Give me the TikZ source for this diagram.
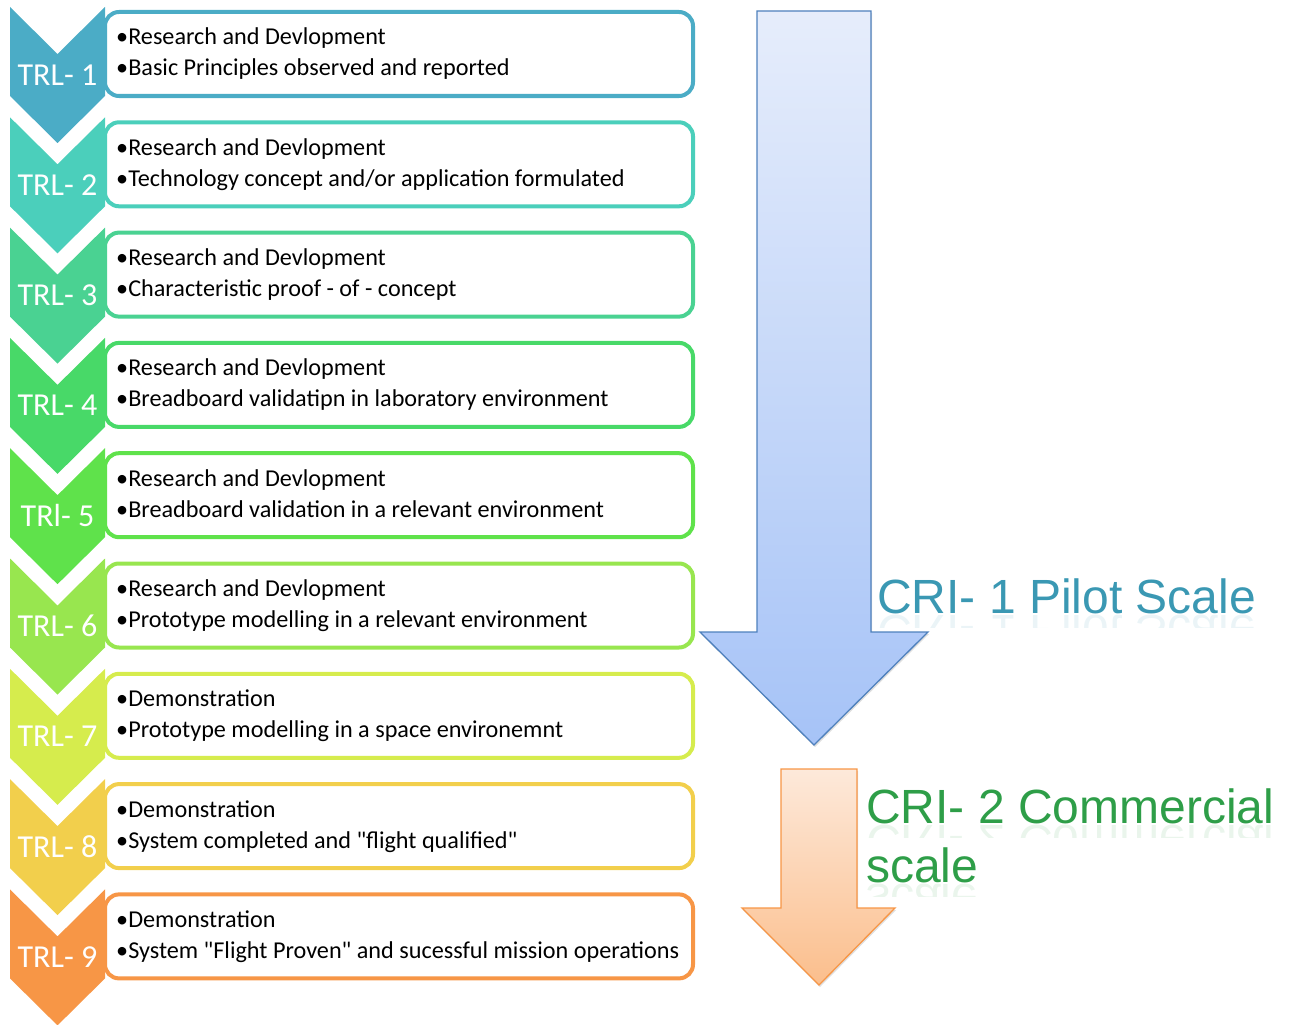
\documentclass[tikz,border=0pt]{standalone}
\usepackage{fontspec}
\setmainfont{Carlito}[Ligatures=TeXOff]
\newfontfamily\crifont{Liberation Sans}
\usetikzlibrary{shadows}

% chevron / frame colours, from blue-teal through green to orange
\definecolor{lv1}{HTML}{4BACC6}
\definecolor{lv2}{HTML}{4BCFBB}
\definecolor{lv3}{HTML}{4AD292}
\definecolor{lv4}{HTML}{48D968}
\definecolor{lv5}{HTML}{5FE24B}
\definecolor{lv6}{HTML}{98E64F}
\definecolor{lv7}{HTML}{D6EC4D}
\definecolor{lv8}{HTML}{F2CF4C}
\definecolor{lv9}{HTML}{F79646}
\definecolor{pilotblue}{HTML}{3A98B3}
\definecolor{commgreen}{HTML}{2E9E48}
\definecolor{blueedge}{HTML}{4F81BD}
\definecolor{bluetop}{HTML}{E6EDFB}
\definecolor{bluebottom}{HTML}{A6C3F7}
\definecolor{orangeedge}{HTML}{F79646}
\definecolor{orangetop}{HTML}{FDE9DA}
\definecolor{orangebottom}{HTML}{FBBE8C}

% one stage: #1 index, #2 colour, #3 label, #4 first bullet, #5 second bullet
\newcommand\trlrow[5]{%
  \pgfmathsetmacro\yo{7+110.3*(#1-1)}
  \draw[stagebox=#2] (105,\yo+5) rectangle (693,\yo+89);
  \fill[#2] (10,\yo) -- (57.5,\yo+47) -- (105,\yo) -- (105,\yo+89)
            -- (57.5,\yo+136) -- (10,\yo+89) -- cycle;
  \node[trllabel] (trl#1) at (57.5,\yo+78) {#3};
  \node[bodytext] (first#1) at (116,\yo+38) {•#4};
  \node[bodytext] (second#1) at (116,\yo+69) {•#5};
}

\begin{document}
\begin{tikzpicture}[x=1pt,y=-1pt,
  stagebox/.style={draw=#1, line width=4pt, fill=white, rounded corners=14pt},
  trllabel/.style={text=white, font=\fontsize{32}{36}\selectfont, inner sep=0pt, anchor=base},
  bodytext/.style={font=\fontsize{24.2}{28}\selectfont, inner sep=0pt, anchor=base west, text=black},
  bigarrow/.style={draw=#1, line width=1.3pt, line join=miter,
    drop shadow={opacity=0.25, shadow xshift=1pt, shadow yshift=-2pt}},
  critext/.style={font=\crifont\fontsize{48}{56}\selectfont, inner sep=0pt, anchor=base west, text=#1},
  crimirror/.style={font=\crifont\fontsize{48}{56}\selectfont, inner sep=0pt, anchor=base west,
    text=#1, yscale=-1, opacity=0.1}
]
\useasboundingbox (0,0) rectangle (1291,1025);

\trlrow{1}{lv1}{TRL- 1}{Research and Devlopment}{Basic Principles observed and reported}
\trlrow{2}{lv2}{TRL- 2}{Research and Devlopment}{Technology concept and/or application formulated}
\trlrow{3}{lv3}{TRL- 3}{Research and Devlopment}{Characteristic proof - of - concept}
\trlrow{4}{lv4}{TRL- 4}{Research and Devlopment}{Breadboard validatipn in laboratory environment}
\trlrow{5}{lv5}{TRl- 5}{Research and Devlopment}{Breadboard validation in a relevant environment}
\trlrow{6}{lv6}{TRL- 6}{Research and Devlopment}{Prototype modelling in a relevant environment}
\trlrow{7}{lv7}{TRL- 7}{Demonstration}{Prototype modelling in a space environemnt}
\trlrow{8}{lv8}{TRL- 8}{Demonstration}{System completed and "flight qualified"}
\trlrow{9}{lv9}{TRL- 9}{Demonstration}{System "Flight Proven" and sucessful mission operations}

% pilot-scale arrow
\draw[bigarrow=blueedge, top color=bluetop, bottom color=bluebottom]
  (757,11) -- (871,11) -- (871,632) -- (928,632) -- (814,745) -- (700,632) -- (757,632) -- cycle;

% commercial-scale arrow
\draw[bigarrow=orangeedge, top color=orangetop, bottom color=orangebottom]
  (781,769) -- (857,769) -- (857,908) -- (895,908) -- (819,985) -- (742,908) -- (781,908) -- cycle;

% scale labels with a faint mirror image under each line
\node[critext=pilotblue] (pilot) at (877,613) {CRI- 1 Pilot Scale};
\begin{scope}
  \clip (860,614) rectangle (1291,627);
  \node[crimirror=pilotblue] (pilotmirror) at (877,615) {CRI- 1 Pilot Scale};
\end{scope}

\node[critext=commgreen] (comm) at (866,823) {CRI- 2 Commercial};
\begin{scope}
  \clip (860,824) rectangle (1291,837);
  \node[crimirror=commgreen] (commmirror) at (866,825) {CRI- 2 Commercial};
\end{scope}
\node[critext=commgreen] (commscale) at (866,882) {scale};
\begin{scope}
  \clip (860,883) rectangle (1291,896);
  \node[crimirror=commgreen] (commscalemirror) at (866,884) {scale};
\end{scope}

\end{tikzpicture}
\end{document}
